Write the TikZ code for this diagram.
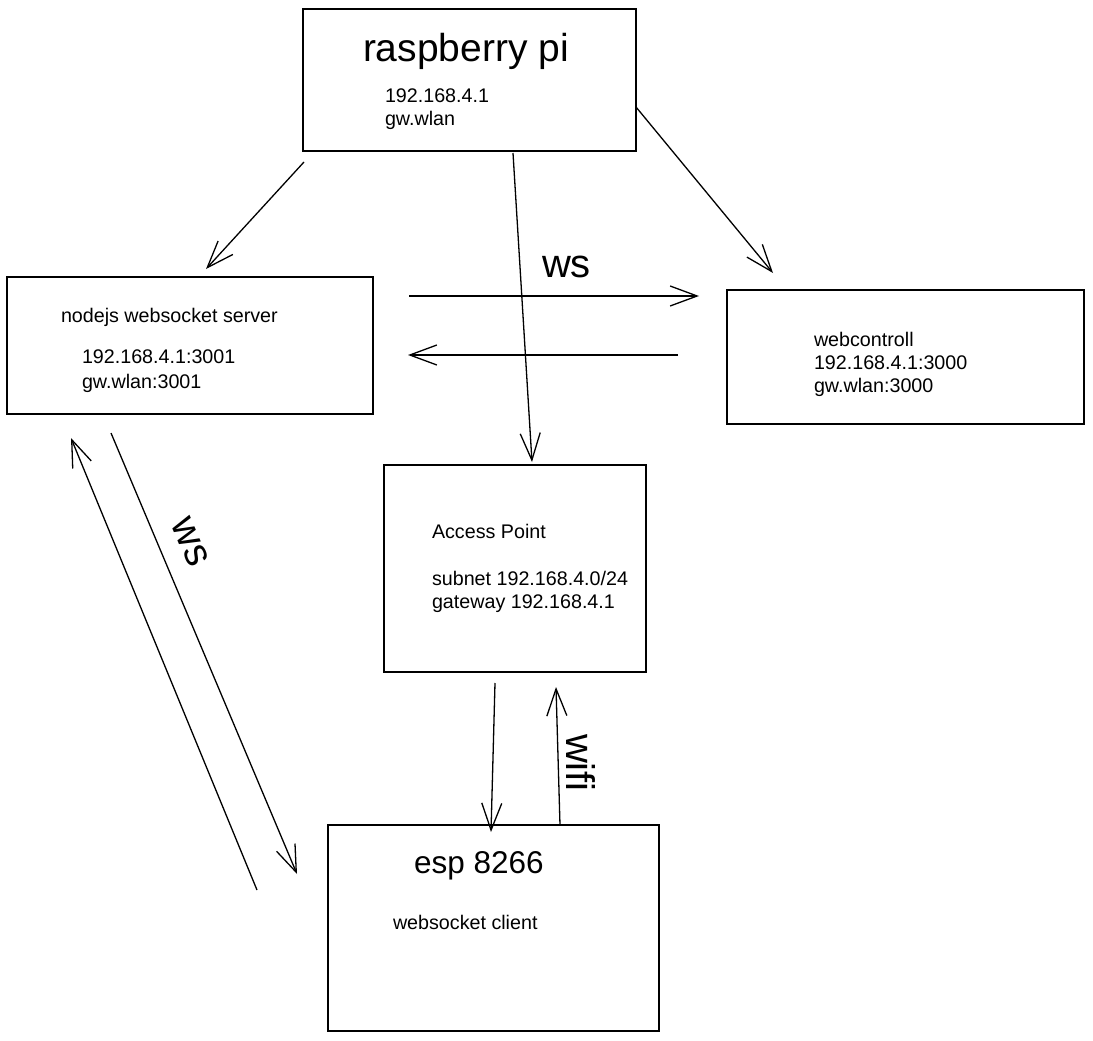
\documentclass[tikz,border=0pt]{standalone}
\usepackage{fontspec}
\setmainfont{Liberation Sans}
\usetikzlibrary{arrows.meta}
\tikzset{
  box/.style={draw=black, line width=1.5pt, fill=white, inner sep=0pt, rectangle},
  txt/.style={inner sep=0pt, outer sep=0pt, align=left, font=\fontsize{19.7}{23}\selectfont},
  bigtxt/.style={inner sep=0pt, outer sep=0pt, font=\fontsize{39}{45}\selectfont},
  lbl/.style={inner sep=0pt, outer sep=0pt, font=\fontsize{40}{46}\selectfont},
  arr/.style={draw=black, line width=1.3pt, -{Straight Barb[length=27pt,width=20pt,line width=1.3pt]}}
}
\begin{document}
\begin{tikzpicture}[x=1pt,y=-1pt]
\useasboundingbox[fill=white] (0,0) rectangle (1093,1041);
% boxes
\node[box, minimum width=333pt, minimum height=142pt] (rpi) at (469.5,80) {};
\node[box, minimum width=366pt, minimum height=137pt] (node) at (190,345.5) {};
\node[box, minimum width=357pt, minimum height=134pt] (web) at (905.5,357) {};
\node[box, minimum width=262pt, minimum height=207pt] (ap) at (515,568.5) {};
\node[box, minimum width=331pt, minimum height=206pt] (esp) at (493.5,928) {};
% texts (multi-line nodes: base anchor = baseline of last line)
\node[bigtxt, anchor=base west] (rpititle) at (363,62) {raspberry pi};
\node[txt, anchor=base west] (rpiinfo) at (385,125) {192.168.4.1\\gw.wlan};
\node[txt, anchor=base west] (nodetitle) at (61,322) {nodejs websocket server};
\node[txt, anchor=base west, font=\fontsize{19.7}{25}\selectfont] (nodeinfo) at (82,388) {192.168.4.1:3001\\gw.wlan:3001};
\node[txt, anchor=base west] (webinfo) at (814,392) {webcontroll\\192.168.4.1:3000\\gw.wlan:3000};
\node[txt, anchor=base west] (aptitle) at (432,538) {Access Point};
\node[txt, anchor=base west] (apinfo) at (432,608) {subnet 192.168.4.0/24\\gateway 192.168.4.1};
\node[inner sep=0pt, anchor=base west, font=\fontsize{31.5}{36}\selectfont] (esptitle) at (414,873) {esp 8266};
\node[txt, anchor=base west] (espinfo) at (393,929) {websocket client};
% labels
\node[lbl, anchor=base west] (wslbl) at (542,277) {ws};
\node[lbl, rotate=-90] (wifilbl) at (581,763) {wifi};
\node[lbl, rotate=-67] (wslbl2) at (190,542) {ws};
% connector end points
\coordinate (rpiL) at (304,162);
\coordinate (nodeT) at (206,269);
\coordinate (rpiR) at (636,107);
\coordinate (webT) at (773,273);
\coordinate (rpiB) at (513,153);
\coordinate (apT) at (532,462);
\coordinate (nodeR1) at (409,296);
\coordinate (webL1) at (699,296);
\coordinate (webL2) at (678,355);
\coordinate (nodeR2) at (408,355);
\coordinate (apB1) at (495,683);
\coordinate (espT1) at (491,832);
\coordinate (espT2) at (560,825);
\coordinate (apB2) at (556,687);
\coordinate (espL1) at (257,890);
\coordinate (nodeB1) at (71,438);
\coordinate (nodeB2) at (111,433);
\coordinate (espL2) at (297,874);
% connectors
\draw[arr] (rpiL) -- (nodeT);
\draw[arr] (rpiR) -- (webT);
\draw[arr] (rpiB) -- (apT);
\draw[arr] (nodeR1) -- (webL1);
\draw[arr] (webL2) -- (nodeR2);
\draw[arr] (apB1) -- (espT1);
\draw[arr] (espT2) -- (apB2);
\draw[arr] (espL1) -- (nodeB1);
\draw[arr] (nodeB2) -- (espL2);
\end{tikzpicture}
\end{document}
